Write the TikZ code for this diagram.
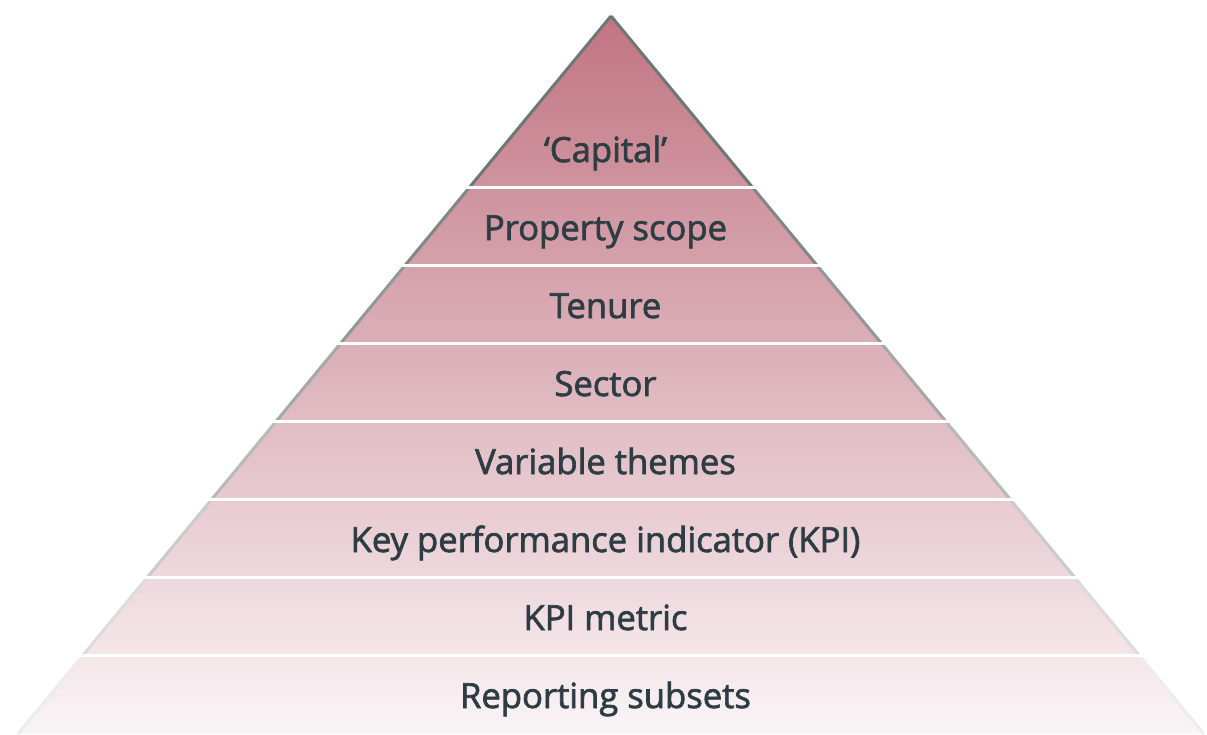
\documentclass[tikz,border=0pt]{standalone}
\usepackage{fontspec}
\setmainfont{Open Sans}
\newfontfamily\tierfont{Open Sans}[FakeBold=2]
\usepackage{tikz}
\usetikzlibrary{calc}

\definecolor{pyrtop}{RGB}{193,117,131}
\definecolor{pyrbottom}{RGB}{250,244,246}
\definecolor{pyredge}{RGB}{92,102,100}
\definecolor{labeltext}{RGB}{46,60,68}

\tikzset{
  tierlabel/.style={anchor=base, font=\tierfont\fontsize{9.85}{12}\selectfont, text=labeltext, inner sep=0pt},
  tiergap/.style={draw=white, line width=0.3mm},
}

\begin{document}
\begin{tikzpicture}[x=0.1mm, y=-0.1mm]
  \useasboundingbox (0,0) rectangle (1207,734);

  % pyramid corners (bottom is cut by the page)
  \coordinate (apex) at (611,16);
  \coordinate (bl) at (17.9,734);
  \coordinate (br) at (1204.1,734);

  % body
  \shade[top color=pyrtop, bottom color=pyrbottom] (apex) -- (bl) -- (br) -- cycle;

  % slanted edges, fading towards the base
  \foreach \ya/\yb [count=\i] in {16/187,187/265,265/343,343/421,421/499,499/577,577/655,655/734} {
    \pgfmathsetmacro\fade{100-11*\i}
    \draw[pyredge!\fade!white, line width=0.3mm]
      ($(apex)!{(\ya-16)/718}!(bl)$) -- ($(apex)!{(\yb-16)/718}!(bl)$)
      ($(apex)!{(\ya-16)/718}!(br)$) -- ($(apex)!{(\yb-16)/718}!(br)$);
  }

  % white gaps between the tiers
  \foreach \y in {187,265,343,421,499,577,655} {
    \draw[tiergap] ($(apex)!{(\y-16)/718}!(bl)+(-4,0)$) -- ($(apex)!{(\y-16)/718}!(br)+(4,0)$);
  }

  % labels
  \foreach \lbl [count=\i] in {{‘Capital’},{Property scope},{Tenure},{Sector},{Variable themes},{Key performance indicator (KPI)},{KPI metric},{Reporting subsets}} {
    \node[tierlabel] (tier\i) at (605.5,{162+78*(\i-1)}) {\lbl};
  }
\end{tikzpicture}
\end{document}
